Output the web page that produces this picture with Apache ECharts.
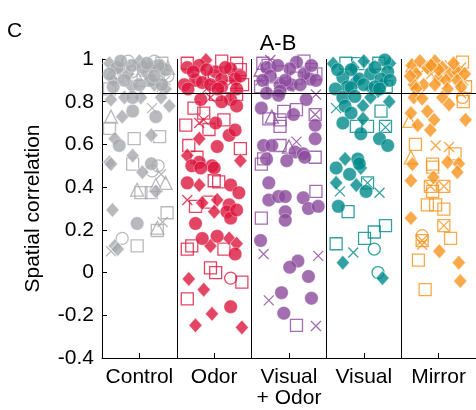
<!DOCTYPE html>
<html><head><meta charset="utf-8">
<script src="https://cdn.jsdelivr.net/npm/echarts@6/dist/echarts.min.js"></script>
<style>html,body{margin:0;padding:0;background:#fff}#c{width:476px;height:410px}</style>
</head><body><div id="c"></div>
<script>
// categories and tick labels
var categories = ['Control', 'Odor', 'Visual\n+ Odor', 'Visual', 'Mirror'];
var colors = ['#A7A9AC', '#DC163E', '#8B4A9C', '#00898A', '#F7941D'];
var yTicks = [-0.4, -0.2, 0, 0.2, 0.4, 0.6, 0.8, 1];
var threshold = 0.84;
// points: [shape, jitter within category, spatial correlation]
// o filled circle, c open circle, s open square, d filled diamond, x cross, t open triangle
var controlPts = [
 ['d',-0.4,0.98],['d',-0.25,0.95],['d',0.1,0.93],['d',0.3,0.97],['d',-0.35,0.9],['d',0.2,0.88],['d',0.0,0.99],['d',-0.1,0.87],
 ['o',-0.3,0.96],['o',-0.1,0.97],['o',0.05,0.96],['o',0.35,0.95],['o',-0.2,0.9],['o',0.15,0.9],['o',0.3,0.88],['o',-0.35,0.87],['o',0.0,0.88],
 ['c',-0.15,0.99],['c',0.2,0.99],['c',0.38,0.92],['s',-0.3,0.92],['s',0.25,0.93],['s',0.05,0.9],['t',-0.35,0.94],['t',0.1,0.95],['x',0.35,0.9],['x',0.2,0.96],
 ['o',-0.25,0.99],['o',0.25,0.97],['d',-0.15,0.93],['d',0.35,0.86],['o',0.1,0.98],['t',-0.05,0.93],['s',0.3,0.98],['x',0.3,0.87],['o',-0.4,0.93],['d',0.15,0.96],['o',0.2,0.92],['c',-0.1,0.94],['s',-0.4,0.86],['t',0.38,0.96],
 ['d',-0.38,0.81],['d',-0.2,0.82],['d',0.02,0.82],['d',0.29,0.82],['d',-0.23,0.73],['d',0.4,0.78],['d',0.16,0.643],['d',-0.33,0.627],['d',-0.09,0.548],['d',-0.4,0.517],['d',-0.38,0.508],['d',0.04,0.47],['d',0.22,0.38],['d',-0.36,0.293],['d',-0.33,0.125],['d',-0.29,0.11],
 ['o',-0.09,0.756],['o',-0.09,0.82],['o',0.22,0.73],['o',-0.27,0.595],['o',0.16,0.51],['o',-0.03,0.23],
 ['c',0.17,0.476],['c',-0.23,0.16],['c',0.25,0.5],
 ['s',-0.4,0.675],['s',-0.07,0.627],['s',0.27,0.637],['s',-0.09,0.508],['s',0.02,0.374],['s',0.16,0.374],['s',0.37,0.28],['s',0.24,0.197],['s',-0.03,0.125],
 ['t',-0.38,0.73],['t',-0.03,0.388],['t',0.35,0.42],['t',0.22,0.41],['t',0.24,0.21],
 ['x',0.17,0.77],['x',0.29,0.46],['x',0.31,0.237],['x',-0.38,0.10]
];
var odorPts = [
 ['o',-0.36,0.96],['o',-0.2,0.97],['o',0.02,0.94],['o',0.22,0.954],['o',-0.25,0.90],['o',-0.16,0.89],['o',0.1,0.906],['o',0.28,0.906],['o',-0.4,0.88],['o',0.1,0.87],['o',-0.05,0.88],
 ['c',0.0,0.92],['d',-0.11,0.995],['s',-0.36,0.98],['s',0.3,0.98],['s',0.35,0.95],['s',0.0,0.91],['s',0.2,0.87],['x',0.25,0.9],
 ['o',-0.28,0.94],['o',0.15,0.96],['o',0.35,0.92],['o',-0.1,0.95],['s',-0.2,0.92],['s',0.1,0.99],['o',0.3,0.86],['o',-0.35,0.86],['x',-0.1,0.86],['s',0.38,0.88],['o',0.05,0.86],
 ['o',-0.18,0.81],['o',0.22,0.81],['o',0.1,0.80],['o',0.30,0.78],['o',0.02,0.70],['o',0.2,0.643],['o',0.28,0.667],['o',0.04,0.59],['o',-0.2,0.517],['o',-0.03,0.50],['o',-0.30,0.50],['o',-0.18,0.49],['o',0,0.49],['o',-0.36,0.42],['o',0.22,0.41],['o',0.33,0.374],['o',0.2,0.317],['o',0.17,0.285],['o',0.22,0.255],['o',0.30,0.293],['o',-0.25,0.23],['o',-0.16,0.16],['o',0.04,0.17],['o',0.28,0.087],['o',0.22,-0.16],
 ['c',0.22,-0.026],
 ['d',-0.2,0.627],['d',-0.36,0.548],['d',0.35,0.524],['d',-0.2,0.41],['d',-0.16,0.326],['d',0.04,0.34],['d',0,0.285],['d',-0.05,0.125],['d',0.2,0.16],['d',0.30,0.135],['d',-0.34,-0.03],['d',-0.14,-0.08],['d',-0.03,-0.193],['d',-0.25,-0.247],['d',0.37,-0.257],
 ['s',0.02,0.834],['s',0.30,0.834],['s',-0.27,0.77],['s',-0.14,0.747],['s',0.13,0.715],['s',-0.38,0.69],['s',-0.07,0.67],['s',-0.34,0.595],['s',0.35,0.58],['s',-0.23,0.54],['s',0.0,0.43],['s',0.06,0.425],['s',-0.25,0.31],['s',-0.07,0.33],['s',-0.36,0.11],['s',-0.30,0.125],['s',0.13,0.11],['s',-0.05,0.022],['s',0.02,0.0],['s',0.37,-0.045],['s',-0.36,-0.123],
 ['x',-0.14,0.715],['x',-0.20,0.70],['x',-0.36,0.34],['x',-0.05,0.82]
];
var visOdorPts = [
 ['o',0.10,0.985],['o',0.01,0.954],['o',-0.30,0.96],['o',0.28,0.906],['o',0.36,0.90],['o',0.03,0.88],['o',-0.12,0.88],['o',-0.25,0.92],['o',0.2,0.93],
 ['s',-0.35,0.98],['s',0.3,0.95],['s',0.36,0.93],['s',-0.1,0.94],['s',-0.38,0.87],['t',-0.38,0.95],['x',-0.25,0.995],['x',-0.38,0.9],
 ['o',-0.35,0.9],['o',-0.15,0.97],['s',0.2,0.99],['o',0.15,0.88],['s',-0.2,0.86],['x',0.0,0.87],['o',0.3,0.97],['s',0.1,0.91],['o',-0.05,0.9],['s',-0.28,0.97],
 ['o',-0.30,0.84],['o',-0.12,0.85],['o',-0.14,0.83],['o',0.23,0.81],['o',-0.37,0.77],['o',0.06,0.74],['o',0.35,0.69],['o',0.35,0.627],['o',-0.34,0.595],['o',-0.23,0.595],['o',0.08,0.565],['o',0.19,0.556],['o',0.21,0.54],['o',-0.30,0.532],['o',-0.03,0.524],['o',-0.27,0.42],['o',-0.27,0.34],['o',-0.14,0.356],['o',-0.05,0.356],['o',0.19,0.35],['o',0.26,0.30],['o',0.39,0.31],['o',-0.05,0.285],['o',-0.05,0.245],['o',-0.38,0.15],['o',0.12,0.054],['o',0.01,0.025],['o',0.26,-0.018],['o',-0.10,-0.094],['o',0.30,-0.12],['o',-0.07,-0.19],
 ['s',-0.07,0.755],['s',0.10,0.763],['s',-0.27,0.72],['s',-0.12,0.715],['s',-0.12,0.685],['s',0.35,0.74],['s',-0.12,0.595],['s',0.35,0.54],['s',-0.34,0.532],['s',-0.37,0.508],['s',0.36,0.38],['s',-0.37,0.255],['s',0.10,-0.247],
 ['t',-0.23,0.73],['t',0.0,0.59],
 ['x',0.36,0.834],['x',0.35,0.74],['x',0.10,0.613],['x',-0.34,0.087],['x',0.39,0.078],['x',-0.27,-0.13],['x',0.36,-0.25]
];
var visualPts = [
 ['o',0.28,0.995],['o',0.32,0.94],['o',-0.28,0.914],['o',-0.06,0.906],['o',0.09,0.93],['o',0.23,0.906],['o',-0.17,0.95],['o',0.0,0.88],['o',0.15,0.87],
 ['d',-0.41,0.978],['d',-0.14,0.96],['d',0.35,0.98],['s',-0.24,0.98],['s',-0.08,0.978],['s',0.3,0.87],['x',0.09,0.97],
 ['o',-0.35,0.95],['o',0.35,0.9],['d',-0.1,0.9],['o',0.15,0.96],['d',0.0,0.99],['o',-0.22,0.87],['s',0.2,0.98],['d',0.25,0.88],['o',-0.38,0.86],['d',0.1,0.86],
 ['o',-0.17,0.866],['o',0.21,0.86],['o',-0.28,0.82],['o',-0.12,0.825],['o',-0.25,0.78],['o',-0.17,0.747],['o',-0.28,0.70],['o',-0.04,0.65],['o',0.21,0.627],['o',0.32,0.595],['o',-0.08,0.532],['o',-0.37,0.49],['o',-0.19,0.46],['o',-0.06,0.51],['o',0.03,0.38],['o',-0.34,0.31],
 ['c',0.14,0.11],['c',0.19,0.0],
 ['d',0.19,0.85],['d',0.09,0.82],['d',0.34,0.80],['d',-0.01,0.78],['d',-0.01,0.72],['d',-0.25,0.532],['d',-0.37,0.42],['d',-0.10,0.41],['d',-0.04,0.49],['d',-0.28,0.046],['d',0.25,-0.026],
 ['s',0.23,0.756],['s',-0.10,0.685],['s',0.05,0.685],['s',0.29,0.685],['s',0.05,0.42],['s',-0.21,0.285],['s',-0.37,0.135],['s',0.01,0.16],['s',0.14,0.19],['s',0.29,0.22],
 ['x',-0.37,0.77],['x',-0.32,0.38],['x',0.21,0.374],['x',0.29,0.68],['x',0.05,0.42],['x',-0.14,0.094]
];
var mirrorPts = [
 ['d',-0.36,0.97],['d',-0.3,0.93],['d',-0.15,0.96],['d',-0.05,0.99],['d',0.05,0.96],['d',0.0,0.91],['d',0.15,0.93],['d',-0.2,0.88],['d',-0.33,0.88],['d',-0.05,0.88],['d',0.1,0.9],['d',0.25,0.94],['d',-0.25,0.99],['d',0.2,0.98],
 ['x',0.3,0.96],['x',0.33,0.9],['x',-0.1,0.93],['s',0.32,0.985],['s',0.36,0.87],['t',-0.35,0.97],
 ['d',-0.3,0.86],['d',0.0,0.95],['d',0.12,0.86],['d',0.25,0.9],['d',-0.1,0.97],['x',-0.2,0.95],['d',0.35,0.93],['d',-0.38,0.92],['x',0.15,0.97],['d',0.3,0.87],
 ['d',-0.33,0.82],['d',-0.22,0.815],['d',0.05,0.82],['d',0.14,0.787],['d',-0.37,0.747],['d',-0.15,0.755],['d',-0.06,0.715],['d',-0.28,0.69],['d',0.36,0.715],['d',-0.11,0.667],['d',-0.35,0.508],['d',0.12,0.517],['d',0.27,0.51],['d',0.25,0.47],['d',-0.37,0.43],['d',-0.07,0.446],['d',-0.37,0.255],['d',0.01,0.10],['d',0.27,0.046],['d',0.29,-0.04],
 ['x',0.3,0.84],['x',-0.04,0.595],['x',0.14,0.588],['x',-0.11,0.404],['x',0.07,0.404],['x',0.07,0.22],['x',-0.22,0.15],['x',-0.22,0.13],
 ['s',0.33,0.8],['s',-0.31,0.60],['s',0.22,0.556],['s',-0.08,0.508],['s',-0.08,0.494],['s',-0.11,0.404],['s',0.07,0.404],['s',-0.08,0.38],['s',-0.15,0.317],['s',-0.04,0.317],['s',0.07,0.297],['s',0.07,0.22],['s',-0.22,0.15],['s',0.16,0.16],['s',-0.27,0.058],['s',-0.18,-0.08],
 ['c',0.32,0.82],['c',-0.22,0.173],
 ['t',-0.39,0.71],['t',-0.37,0.54]
];
var allPts = [controlPts, odorPts, visOdorPts, visualPts, mirrorPts];

var crossPath = 'path://M0,0L10,10M10,0L0,10';
function shapeStyle(shape, color) {
  switch (shape) {
    case 'o': return {symbol: 'circle', symbolSize: 13.5, itemStyle: {color: color, borderColor: 'rgba(255,255,255,0.5)', borderWidth: 0.8}};
    case 'd': return {symbol: 'diamond', symbolSize: [13.5, 15], itemStyle: {color: color, borderColor: 'rgba(255,255,255,0.7)', borderWidth: 1}};
    case 'c': return {symbol: 'circle', symbolSize: 12, itemStyle: {color: 'rgba(0,0,0,0)', borderColor: color, borderWidth: 1.3}};
    case 's': return {symbol: 'rect', symbolSize: 12, itemStyle: {color: 'rgba(0,0,0,0)', borderColor: color, borderWidth: 1.3}};
    case 't': return {symbol: 'triangle', symbolSize: 13, itemStyle: {color: 'rgba(0,0,0,0)', borderColor: color, borderWidth: 1.3}};
    case 'x': return {symbol: crossPath, symbolSize: 10, itemStyle: {color: 'rgba(0,0,0,0)', borderColor: color, borderWidth: 1.3}};
  }
}
var series = [];
var shapeOrder = ['s', 'c', 't', 'x', 'd', 'o'];
allPts.forEach(function (pts, ci) {
  shapeOrder.forEach(function (sh) {
    var data = pts.filter(function (p) { return p[0] === sh; }).map(function (p) { return [ci + 1 + p[1], p[2]]; });
    if (!data.length) return;
    var st = shapeStyle(sh, colors[ci]);
    series.push({type: 'scatter', data: data, symbol: st.symbol, symbolSize: st.symbolSize, itemStyle: st.itemStyle, emphasis: {disabled: true}, silent: true, z: 2});
  });
});
var separators = categories.slice(0, -1).map(function (_, i) { return {xAxis: i + 1.5}; });
series.push({
  type: 'scatter', data: [], z: 5, silent: true,
  markLine: {symbol: 'none', silent: true, label: {show: false}, animation: false,
    lineStyle: {color: '#000', width: 1, type: 'solid'},
    data: separators.concat([{yAxis: threshold}])}
});

var font = 'Liberation Sans';
var chart = echarts.init(document.getElementById('c'), null, {renderer: 'canvas'});
chart.setOption({
  animation: false,
  backgroundColor: '#fff',
  title: [
    {text: 'A-B', left: 273, top: 28, textAlign: 'center', textStyle: {fontFamily: font, fontSize: 22, fontWeight: 'normal', color: '#000'}},
    {text: 'C', left: 2, top: 16, textStyle: {fontFamily: font, fontSize: 21, fontWeight: 'normal', color: '#000'}}
  ],
  grid: {left: 102, top: 59, width: 375, height: 299},
  xAxis: {
    type: 'value', min: 0.5, max: 5.5, interval: 0.5,
    axisLine: {show: true, onZero: false, lineStyle: {color: '#000', width: 1}},
    axisTick: {show: true, inside: true, length: 5, customValues: [1, 2, 3, 4, 5], lineStyle: {color: '#000'}},
    axisLabel: {show: true, customValues: [1, 2, 3, 4, 5], margin: 9, color: '#000', fontFamily: font, fontSize: 21, lineHeight: 21,
      formatter: function (v) { var i = Math.round(v) - 1; return (Math.abs(v - Math.round(v)) < 1e-6 && categories[i]) ? categories[i] : ''; }},
    splitLine: {show: false}
  },
  yAxis: {
    type: 'value', min: yTicks[0], max: yTicks[yTicks.length - 1], interval: 0.2,
    name: 'Spatial correlation', nameLocation: 'middle', nameGap: 58, nameRotate: 90,
    nameTextStyle: {fontFamily: font, fontSize: 21, color: '#000'},
    axisLine: {show: true, lineStyle: {color: '#000', width: 1}},
    axisTick: {show: true, inside: true, length: 5, lineStyle: {color: '#000'}},
    axisLabel: {color: '#000', fontFamily: font, fontSize: 21, margin: 8,
      formatter: function (v) { var r = Math.round(v * 10) / 10; return String(r); }},
    splitLine: {show: false}
  },
  series: series
});
</script></body></html>
